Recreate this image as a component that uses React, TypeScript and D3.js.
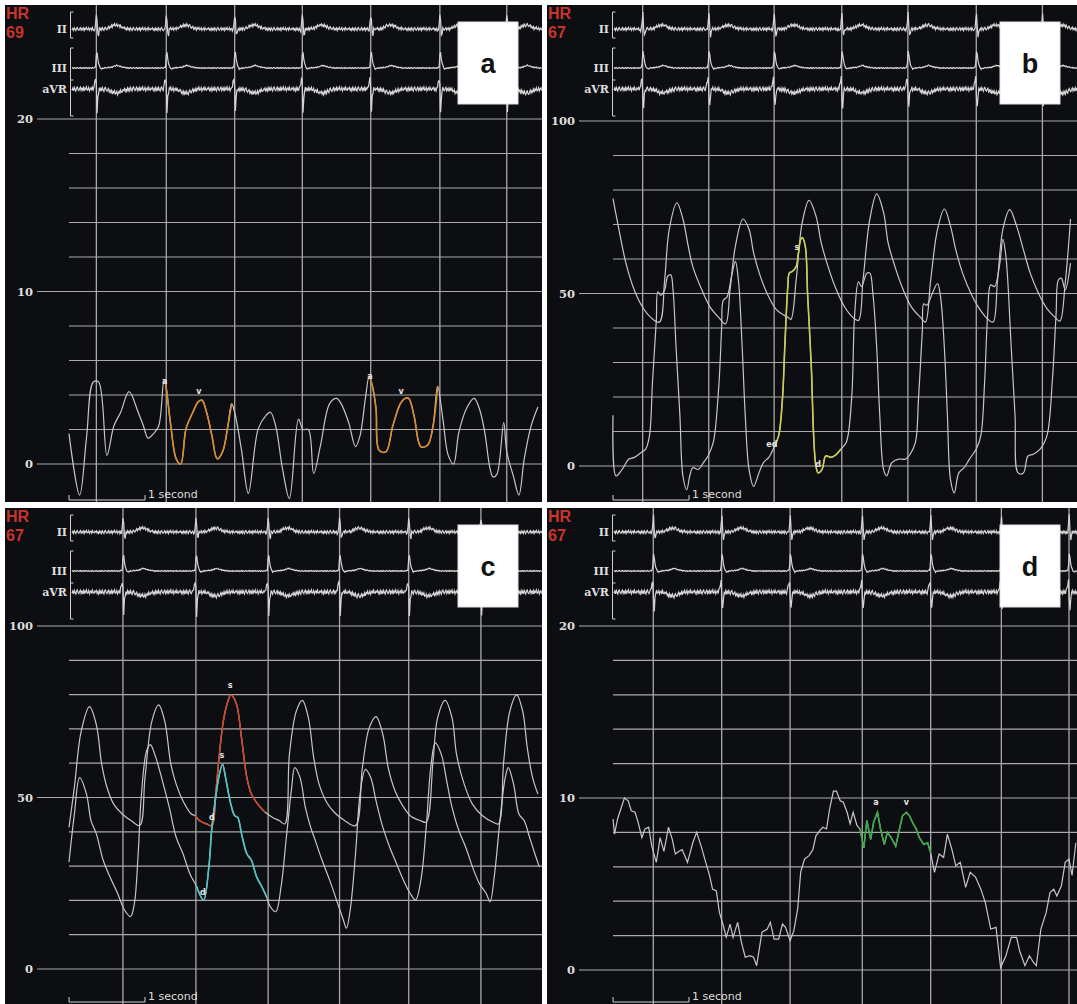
import React, { useEffect, useRef } from "react";
import * as d3 from "d3";

type Pt = [number, number];

// ---------- panel a : CVP (0-20 mmHg), time in seconds ----------
const hrA = "69";
const yTicksA = [0, 10, 20];
const beatsA = [0.36, 1.28, 2.18, 3.07, 3.97, 4.88, 5.76];
const cvpA: Pt[] = [
  [0.0, 1.76], [0.14, -1.8], [0.23, 1.5], [0.32, 4.75], [0.39, 4.75], [0.5, 0.5], [0.59, 2.2], [0.68, 3.0],
  [0.79, 4.2], [0.91, 3.0], [0.98, 2.2], [1.04, 1.5], [1.11, 1.75], [1.18, 2.2], [1.25, 4.9], [1.27, 4.65],
  [1.34, 2.2], [1.41, 0.3], [1.47, 0], [1.54, 2.05], [1.63, 3.0], [1.7, 3.6], [1.75, 3.7], [1.81, 3.0],
  [1.88, 1.65], [1.95, 0.3], [2.02, 0.7], [2.09, 2.2], [2.14, 3.5], [2.18, 3.0], [2.27, 0.8], [2.36, -1.7],
  [2.49, 2.05], [2.59, 2.8], [2.65, 3.0], [2.72, 2.2], [2.81, -0.3], [2.9, -2.0], [3.02, 2.6], [3.08, 2.0],
  [3.15, 2.0], [3.22, -0.55], [3.31, 1.1], [3.43, 3.5], [3.52, 3.8], [3.58, 3.5], [3.68, 2.4], [3.77, 1.0],
  [3.83, 1.65], [3.9, 3.8], [3.95, 5.1], [3.99, 4.55], [4.04, 3.2], [4.08, 0.8], [4.17, 0.7], [4.26, 2.2],
  [4.36, 3.5], [4.42, 3.8], [4.47, 3.8], [4.54, 2.8], [4.63, 1.0], [4.72, 1.1], [4.79, 2.2], [4.85, 4.5],
  [4.92, 2.6], [4.99, 0.5], [5.06, 0], [5.13, 1.85], [5.24, 3.3], [5.33, 3.8], [5.4, 3.2], [5.47, 1.85],
  [5.54, -0.27], [5.58, -0.75], [5.63, -0.6], [5.72, 2.4], [5.76, 0.7], [5.85, -0.75], [5.92, -1.8],
  [5.99, 0.3], [6.08, 2.2], [6.17, 3.3],
];
const cvpAMarks: Pt[] = [[1.25, 2.14], [3.95, 4.85]];
const notesA = [
  { t: 1.26, v: 4.8, text: "a" }, { t: 1.71, v: 4.2, text: "v" },
  { t: 3.96, v: 5.1, text: "a" }, { t: 4.37, v: 4.2, text: "v" },
];

// ---------- panel b : arterial + ventricular (0-100 mmHg) ----------
const hrB = "67";
const yTicksB = [0, 50, 100];
const beatsB = [0.39, 1.26, 2.12, 3.01, 3.88, 4.78, 5.65];
const artB: Pt[] = [
  [0.0, 77.5], [0.06, 70.6], [0.17, 58.8], [0.28, 51], [0.39, 46], [0.5, 43], [0.61, 41.7], [0.68, 54],
  [0.74, 68.6], [0.84, 76.3], [0.92, 71.6], [0.99, 63.7], [1.05, 57.8], [1.17, 51], [1.28, 46], [1.39, 43.1],
  [1.48, 41.2], [1.54, 51], [1.61, 63.7], [1.71, 71.6], [1.79, 68.6], [1.85, 61.8], [1.94, 54.9], [2.05, 49],
  [2.16, 45.1], [2.3, 43.1], [2.34, 42.5], [2.41, 53.9], [2.49, 70.6], [2.58, 77], [2.67, 72.5], [2.74, 64.7],
  [2.83, 57.8], [2.94, 51], [3.05, 46], [3.16, 43], [3.23, 42.2], [3.29, 53.9], [3.38, 71.6], [3.47, 78.9],
  [3.56, 73.5], [3.62, 64.7], [3.71, 57.8], [3.82, 51], [3.93, 46], [4.05, 43], [4.11, 41.7], [4.18, 53.9],
  [4.27, 68.6], [4.36, 74.5], [4.44, 69.6], [4.51, 62.7], [4.6, 55.9], [4.71, 50], [4.82, 45.6], [4.93, 42.6],
  [5.0, 41.7], [5.06, 53.9], [5.13, 68.6], [5.22, 74.3], [5.31, 69.6], [5.4, 62.7], [5.49, 55.9], [5.6, 50],
  [5.71, 45.6], [5.82, 43], [5.88, 42], [5.95, 53], [6.02, 71.6],
];
const lvB: Pt[] = [
  [0.0, 14.7], [0.04, -2.9], [0.12, -1], [0.21, 2], [0.28, 2.5], [0.37, 3.9], [0.43, 4.9], [0.48, 8.8],
  [0.52, 24.5], [0.57, 42.2], [0.59, 50.5], [0.63, 49.5], [0.68, 51], [0.72, 55], [0.76, 55.4], [0.79, 51],
  [0.83, 34.3], [0.88, 14.7], [0.92, -2.9], [0.97, -6.9], [1.01, -2.9], [1.05, -0.5], [1.12, -1], [1.19, 1],
  [1.25, 2.9], [1.32, 6.9], [1.39, 22.5], [1.43, 40.2], [1.45, 48], [1.5, 49], [1.56, 55], [1.61, 59.3],
  [1.65, 53.9], [1.7, 34.3], [1.74, 14.7], [1.79, -1], [1.85, -5.9], [1.92, -2], [1.98, 1], [2.05, 2.5],
  [2.12, 5.5], [2.18, 8.8], [2.23, 19.6], [2.26, 34.3], [2.3, 52], [2.32, 55.9], [2.36, 56.4], [2.41, 57.8],
  [2.44, 61.8], [2.47, 65.7], [2.49, 66.2], [2.53, 63.7], [2.56, 50], [2.61, 28.4], [2.64, 8.8], [2.67, 0],
  [2.7, -2], [2.75, -1], [2.8, 2.9], [2.87, 2.5], [2.94, 3.4], [3.0, 4.9], [3.07, 6.9], [3.14, 19.6],
  [3.18, 44], [3.23, 53.4], [3.27, 52], [3.34, 55.9], [3.38, 55.9], [3.42, 50], [3.47, 34.3], [3.51, 14.7],
  [3.56, -1], [3.6, -2.9], [3.67, 1], [3.76, 2], [3.85, 2], [3.91, 3.4], [3.98, 6.9], [4.02, 19.6],
  [4.07, 39.2], [4.09, 47], [4.13, 46.6], [4.2, 50], [4.27, 52.9], [4.31, 49], [4.36, 34.3], [4.4, 14.7],
  [4.44, -3.9], [4.49, -7.8], [4.55, -2], [4.62, -0.5], [4.69, 2], [4.78, 4.9], [4.84, 8.8], [4.89, 24.5],
  [4.93, 44], [4.97, 52.5], [5.02, 52], [5.09, 58.8], [5.13, 65.7], [5.17, 60.8], [5.24, 34.3], [5.29, 14.7],
  [5.33, -2], [5.4, -2], [5.46, 2.9], [5.53, 3.4], [5.62, 4.9], [5.71, 8.8], [5.78, 24.5], [5.83, 44],
  [5.86, 53.9], [5.9, 54.4], [5.95, 51], [6.02, 58.8],
];
const lvBMarks: Pt[] = [[2.12, 3.0]];
const notesB = [
  { t: 2.42, v: 63.5, text: "s" }, { t: 2.09, v: 6.4, text: "ed" }, { t: 2.7, v: 0.6, text: "d" },
];

// ---------- panel c : two arterial traces (0-100 mmHg) ----------
const hrC = "67";
const yTicksC = [0, 50, 100];
const beatsC = [0.71, 1.67, 2.62, 3.56, 4.47, 5.42];
const upperC: Pt[] = [
  [0.0, 41.3], [0.07, 52.9], [0.16, 69.3], [0.27, 76.5], [0.36, 71.2], [0.43, 59.7], [0.5, 52.9], [0.59, 48],
  [0.7, 45.2], [0.82, 43.2], [0.93, 41.8], [1.0, 55.8], [1.09, 72.2], [1.18, 77], [1.26, 72.2], [1.34, 59.7],
  [1.41, 53.9], [1.5, 49], [1.61, 45.2], [1.66, 44.7], [1.72, 43.2], [1.81, 42.3], [1.88, 41.8], [1.93, 51],
  [1.97, 60.6], [2.03, 72.2], [2.09, 78], [2.13, 79.9], [2.2, 77.5], [2.27, 67.4], [2.34, 55.8], [2.4, 51],
  [2.5, 47.6], [2.58, 45.7], [2.68, 44.2], [2.77, 43.2], [2.84, 42.3], [2.9, 62.5], [2.99, 75.1], [3.07, 78.3],
  [3.15, 73.2], [3.22, 61.6], [3.29, 53.9], [3.38, 49], [3.49, 45.7], [3.63, 43.2], [3.77, 41.8], [3.86, 58.7],
  [3.95, 70.3], [4.04, 73.6], [4.13, 68.3], [4.2, 58.7], [4.29, 51.9], [4.38, 48], [4.49, 44.7], [4.63, 43.2],
  [4.7, 42.8], [4.79, 60.6], [4.85, 73.2], [4.95, 78.3], [5.04, 73.2], [5.1, 62.5], [5.2, 53.9], [5.31, 48],
  [5.44, 44.7], [5.58, 42.8], [5.65, 42.3], [5.72, 60.6], [5.8, 75.1], [5.89, 79.9], [5.97, 75.1], [6.03, 64.5],
  [6.1, 55.8], [6.17, 51],
];
const lowerC: Pt[] = [
  [0.0, 31.2], [0.07, 45], [0.14, 55.8], [0.23, 51], [0.29, 43.2], [0.36, 39.4], [0.45, 31.7], [0.54, 26.8],
  [0.64, 22], [0.73, 17.2], [0.81, 15.3], [0.86, 19.1], [0.91, 33.6], [0.95, 50], [1.02, 63.5], [1.07, 65.4],
  [1.13, 62.5], [1.23, 54.8], [1.32, 47.1], [1.41, 38.4], [1.5, 33.6], [1.59, 27.8], [1.67, 24.5], [1.77, 20.1],
  [1.84, 29.7], [1.88, 41.3], [1.93, 50], [1.97, 55.8], [2.02, 59.7], [2.06, 55.8], [2.13, 48], [2.18, 44.7],
  [2.22, 44.2], [2.27, 39.4], [2.34, 33.6], [2.4, 31.7], [2.47, 26.8], [2.54, 23.9], [2.6, 21], [2.65, 18.1],
  [2.72, 16.7], [2.79, 23.9], [2.86, 38.4], [2.93, 52.9], [2.97, 58.7], [3.04, 55.8], [3.11, 47.1], [3.18, 41.3],
  [3.24, 37.5], [3.33, 31.7], [3.43, 25.9], [3.52, 20.1], [3.61, 14.3], [3.65, 11.9], [3.7, 17.2], [3.77, 33.6],
  [3.83, 51], [3.9, 58.2], [3.97, 55.8], [4.04, 49], [4.13, 41.3], [4.22, 35.5], [4.31, 30.7], [4.4, 25.9],
  [4.49, 22], [4.56, 20.1], [4.63, 25.9], [4.7, 41.3], [4.76, 58.7], [4.82, 65.9], [4.9, 62.5], [4.97, 54.8],
  [5.04, 47.1], [5.13, 40.3], [5.22, 35.5], [5.31, 29.7], [5.4, 24.9], [5.49, 22], [5.54, 19.6], [5.6, 27.8],
  [5.67, 43.2], [5.74, 55.8], [5.78, 58.7], [5.85, 53.9], [5.92, 45.2], [5.99, 43.2], [6.06, 38.4],
  [6.13, 33.6], [6.19, 29.7],
];
const upperCMarks: Pt[] = [[1.66, 2.58]];
const lowerCMarks: Pt[] = [[1.67, 2.6]];
const notesC = [
  { t: 2.12, v: 82.8, text: "s" }, { t: 2.01, v: 62.4, text: "s" },
  { t: 1.88, v: 44.3, text: "d" }, { t: 1.76, v: 22.4, text: "d" },
];

// ---------- panel d : PA / wedge (0-20 mmHg) ----------
const hrD = "67";
const yTicksD = [0, 10, 20];
const beatsD = [0.53, 1.43, 2.33, 3.28, 4.18, 5.11, 6.0];
const paD: Pt[] = [
  [0.0, 8.78], [0.02, 7.9], [0.06, 8.78], [0.15, 10], [0.2, 9.84], [0.24, 9.26], [0.29, 9.17], [0.33, 8.6],
  [0.38, 7.7], [0.42, 8.2], [0.47, 8.3], [0.51, 7.2], [0.57, 6.26], [0.62, 7.7], [0.67, 6.9], [0.73, 8.3],
  [0.78, 7.6], [0.82, 6.74], [0.87, 6.9], [0.91, 7.0], [0.98, 6.26], [1.05, 7.4], [1.1, 8.0], [1.16, 7.2],
  [1.22, 6.26], [1.27, 5.5], [1.31, 4.7], [1.36, 4.6], [1.4, 3.35], [1.45, 2.6], [1.49, 1.9], [1.54, 2.67],
  [1.58, 1.9], [1.64, 2.77], [1.69, 1.6], [1.74, 0.74], [1.8, 0.83], [1.85, 0.74], [1.89, 0.25], [1.96, 2.2],
  [2.03, 2.38], [2.07, 2.77], [2.12, 1.8], [2.18, 1.8], [2.23, 2.67], [2.27, 2.48], [2.33, 1.7], [2.38, 2.29],
  [2.43, 3.55], [2.47, 5.7], [2.52, 6.45], [2.58, 6.65], [2.63, 7.0], [2.67, 7.8], [2.72, 8.1], [2.76, 8.3],
  [2.81, 8.2], [2.85, 9.36], [2.9, 10.4], [2.94, 10.4], [2.99, 9.84], [3.03, 9.75], [3.08, 9.17], [3.12, 8.5],
  [3.16, 9.17], [3.21, 8.4], [3.25, 8.2], [3.3, 7.1], [3.34, 8.7], [3.39, 7.6], [3.43, 8.6], [3.48, 9.17],
  [3.52, 8.2], [3.57, 7.3], [3.61, 8.0], [3.66, 7.7], [3.72, 7.2], [3.77, 8.2], [3.81, 8.97], [3.86, 9.17],
  [3.9, 8.97], [3.95, 8.5], [3.99, 8.2], [4.03, 7.7], [4.09, 7.3], [4.14, 7.4], [4.18, 6.8], [4.23, 5.68],
  [4.29, 6.74], [4.35, 6.55], [4.4, 7.9], [4.46, 7.0], [4.51, 6.06], [4.57, 6.26], [4.64, 4.8], [4.7, 5.68],
  [4.77, 5.4], [4.84, 4.7], [4.9, 3.9], [4.97, 2.38], [5.04, 2.48], [5.1, 0.15], [5.17, 0.83], [5.24, 1.9],
  [5.31, 1.9], [5.35, 1.12], [5.42, 0.25], [5.48, 0.83], [5.53, 0.45], [5.57, 0.25], [5.63, 2.38], [5.7, 3.35],
  [5.75, 4.5], [5.8, 4.7], [5.84, 4.3], [5.9, 4.9], [5.95, 6.26], [6.0, 6.45], [6.04, 5.5], [6.09, 7.4],
];
const paDMarks: Pt[] = [[3.25, 4.18]];
const notesD = [{ t: 3.46, v: 9.77, text: "a" }, { t: 3.86, v: 9.77, text: "v" }];

// ---------- ECG beat templates: [s from R, mV] ----------
const ecgII: Pt[] = [
  [-0.05, 0], [-0.02, -0.08], [-0.005, 0.5], [0.005, 1.0], [0.015, -0.1], [0.025, -0.45], [0.04, 0],
  [0.14, 0.02], [0.22, 0.2], [0.28, 0.22], [0.36, 0.05], [0.44, 0],
];
const ecgIII: Pt[] = [
  [-0.04, 0], [-0.01, 0.05], [0.005, 1.0], [0.02, 0.45], [0.035, 0.15], [0.06, -0.05], [0.1, 0],
  [0.2, 0.04], [0.27, 0.14], [0.34, 0.05], [0.42, 0],
];
const ecgAVR: Pt[] = [
  [-0.04, 0], [-0.015, 0.35], [-0.003, 0.5], [0.008, -1.0], [0.02, -0.3], [0.035, 0], [0.14, -0.02],
  [0.22, -0.14], [0.28, -0.16], [0.36, -0.05], [0.44, 0],
];
const ecgTexture = [
  0.6, -0.4, 0.9, -0.8, 0.2, 1.0, -0.6, -1.0, 0.4, 0.8, -0.2, -0.9, 0.7, -0.3, 0.5, -0.7, 1.0, -0.5, 0.1,
  -1.0, 0.6, 0.3, -0.8, 0.9, -0.1, -0.6, 0.8, -0.9, 0.3, 0.6, -0.4, 0.0, -0.8, 0.7, -0.2, 0.9, -0.7,
];

const W = 1077;
const H = 1004;
const PX_PER_SEC = 76;
const BG = "#0d0e12";
const GRID = "#a9a9a9";
const TRACE = "#c6c6c6";
const TEXT = "#dedede";

const leads = [
  { name: "II", base: 24, gain: 18, tmpl: ecgII, noise: 1.5 },
  { name: "III", base: 63, gain: 19, tmpl: ecgIII, noise: 0.5 },
  { name: "aVR", base: 84, gain: 25, tmpl: ecgAVR, noise: 2.0 },
];

type Trace = { data: Pt[]; smooth: boolean; marks: Pt[]; color: string };
type Panel = {
  letter: string;
  hr: string;
  yMax: number;
  yStep: number;
  yTicks: number[];
  beats: number[];
  traces: Trace[];
  notes: { t: number; v: number; text: string }[];
  box: { x: number; y: number; w: number; h: number; x0: number; yTop: number; yZero: number };
};

const panels: Panel[] = [
  {
    letter: "a", hr: hrA, yMax: 20, yStep: 2, yTicks: yTicksA, beats: beatsA,
    traces: [{ data: cvpA, smooth: true, marks: cvpAMarks, color: "#d98a2e" }],
    notes: notesA,
    box: { x: 5, y: 5, w: 537, h: 497, x0: 69, yTop: 119, yZero: 464 },
  },
  {
    letter: "b", hr: hrB, yMax: 100, yStep: 10, yTicks: yTicksB, beats: beatsB,
    traces: [
      { data: artB, smooth: true, marks: [], color: TRACE },
      { data: lvB, smooth: true, marks: lvBMarks, color: "#c8cc50" },
    ],
    notes: notesB,
    box: { x: 547, y: 5, w: 530, h: 497, x0: 613, yTop: 121, yZero: 466 },
  },
  {
    letter: "c", hr: hrC, yMax: 100, yStep: 10, yTicks: yTicksC, beats: beatsC,
    traces: [
      { data: upperC, smooth: true, marks: upperCMarks, color: "#c9472c" },
      { data: lowerC, smooth: true, marks: lowerCMarks, color: "#50c3c6" },
    ],
    notes: notesC,
    box: { x: 5, y: 508, w: 537, h: 496, x0: 69, yTop: 626, yZero: 969 },
  },
  {
    letter: "d", hr: hrD, yMax: 20, yStep: 2, yTicks: yTicksD, beats: beatsD,
    traces: [{ data: paD, smooth: false, marks: paDMarks, color: "#3fa64a" }],
    notes: notesD,
    box: { x: 547, y: 508, w: 530, h: 496, x0: 613, yTop: 626, yZero: 970 },
  },
];

function drawPanel(svg: d3.Selection<SVGSVGElement, unknown, null, undefined>, p: Panel) {
  const b = p.box;
  const right = b.x + b.w;
  const clipId = "clip-" + p.letter;
  svg.append("clipPath").attr("id", clipId)
    .append("rect").attr("x", b.x).attr("y", b.y).attr("width", b.w).attr("height", b.h);
  const g = svg.append("g").attr("clip-path", `url(#${clipId})`);
  g.append("rect").attr("x", b.x).attr("y", b.y).attr("width", b.w).attr("height", b.h).attr("fill", BG);

  const x = d3.scaleLinear().domain([0, 1]).range([b.x0, b.x0 + PX_PER_SEC]);
  const y = d3.scaleLinear().domain([0, p.yMax]).range([b.yZero, b.yTop]);

  // horizontal grid
  const gridVals = d3.range(0, p.yMax + p.yStep / 2, p.yStep);
  g.selectAll(".hgrid").data(gridVals).enter().append("line")
    .attr("x1", (d) => (p.yTicks.includes(d) ? b.x + 32 : x(0)))
    .attr("x2", right)
    .attr("y1", (d) => y(d)).attr("y2", (d) => y(d))
    .attr("stroke", GRID).attr("stroke-width", 1.2);

  g.selectAll(".ylab").data(p.yTicks).enter().append("text")
    .attr("x", b.x + 28).attr("y", (d) => y(d)).attr("dy", "0.35em")
    .attr("text-anchor", "end")
    .attr("font-family", "'DejaVu Serif', serif").attr("font-weight", "bold").attr("font-size", 11.5)
    .attr("fill", TEXT)
    .text((d) => String(d));

  // beat markers
  g.selectAll(".vgrid").data(p.beats).enter().append("line")
    .attr("x1", (d) => x(d)).attr("x2", (d) => x(d))
    .attr("y1", b.y).attr("y2", b.y + b.h)
    .attr("stroke", GRID).attr("stroke-width", 1.3);

  // ECG leads
  const tStart = x.invert(b.x + 67);
  const tEnd = x.invert(right);
  const times = d3.range(tStart, tEnd, 0.01);
  leads.forEach((lead) => {
    const shape = d3.scaleLinear().domain(lead.tmpl.map((d) => d[0])).range(lead.tmpl.map((d) => d[1])).clamp(true);
    const pts: Pt[] = times.map((t, i) => {
      const near = p.beats.reduce((a, r) => (Math.abs(t - r) < Math.abs(t - a) ? r : a), p.beats[0]);
      const v = shape(t - near);
      return [x(t), b.y + lead.base - lead.gain * v + lead.noise * ecgTexture[i % ecgTexture.length]];
    });
    g.append("path").attr("d", d3.line()(pts)).attr("fill", "none")
      .attr("stroke", "#d4d4d4").attr("stroke-width", 1.2);
    g.append("text").attr("x", b.x + 62).attr("y", b.y + lead.base + 4)
      .attr("text-anchor", "end")
      .attr("font-family", "'DejaVu Serif', serif").attr("font-weight", "bold").attr("font-size", 11)
      .attr("fill", TEXT).text(lead.name);
  });

  const bx = b.x + 65.5;
  const bracket = d3.path();
  bracket.moveTo(bx + 3, b.y + 7); bracket.lineTo(bx, b.y + 7); bracket.lineTo(bx, b.y + 33); bracket.lineTo(bx + 3, b.y + 33);
  bracket.moveTo(bx + 3, b.y + 43); bracket.lineTo(bx, b.y + 43); bracket.lineTo(bx, b.y + 111); bracket.lineTo(bx + 3, b.y + 111);
  bracket.moveTo(bx, b.y + 75); bracket.lineTo(bx + 3, b.y + 75);
  g.append("path").attr("d", bracket.toString()).attr("fill", "none").attr("stroke", "#cfcfcf").attr("stroke-width", 1);

  // HR
  const hrText = g.append("text").attr("font-family", "'Liberation Sans', Arial, sans-serif")
    .attr("font-weight", "bold").attr("font-size", 16).attr("fill", "#c8352c");
  hrText.append("tspan").attr("x", b.x + 1).attr("y", b.y + 14).text("HR");
  hrText.append("tspan").attr("x", b.x + 1).attr("y", b.y + 33).text(p.hr);

  // pressure traces
  p.traces.forEach((tr) => {
    const line = d3.line<Pt>()
      .x((d) => x(d[0])).y((d) => y(d[1]))
      .curve(tr.smooth ? d3.curveCatmullRom.alpha(0.5) : d3.curveLinear);
    g.append("path").attr("d", line(tr.data)).attr("fill", "none")
      .attr("stroke", TRACE).attr("stroke-width", 1.2);
    tr.marks.forEach((m) => {
      const seg = tr.data.filter((d) => d[0] >= m[0] - 1e-6 && d[0] <= m[1] + 1e-6);
      g.append("path").attr("d", line(seg)).attr("fill", "none")
        .attr("stroke", tr.color).attr("stroke-width", 1.6);
    });
  });

  g.selectAll(".note").data(p.notes).enter().append("text")
    .attr("x", (d) => x(d.t)).attr("y", (d) => y(d.v)).attr("dy", "0.35em")
    .attr("text-anchor", "middle")
    .attr("font-family", "'DejaVu Sans', sans-serif").attr("font-weight", "bold").attr("font-size", 8)
    .attr("fill", "#e4e4e4").text((d) => d.text);

  // scale bar
  const yb = b.y + b.h - 2;
  g.append("path")
    .attr("d", `M${x(0)},${yb - 5}V${yb}H${x(1)}V${yb - 5}`)
    .attr("fill", "none").attr("stroke", "#cfcfcf").attr("stroke-width", 1);
  g.append("text").attr("x", x(1) + 3).attr("y", yb - 2)
    .attr("font-family", "'DejaVu Sans', sans-serif").attr("font-size", 11).attr("fill", TEXT)
    .text("1 second");

  // panel letter box
  g.append("rect").attr("x", b.x + 453).attr("y", b.y + 17).attr("width", 60).attr("height", 82)
    .attr("fill", "#ffffff").attr("stroke", "#e2e2e2");
  g.append("text").attr("x", b.x + 483).attr("y", b.y + 68)
    .attr("text-anchor", "middle")
    .attr("font-family", "'Liberation Sans', Arial, sans-serif").attr("font-weight", "bold").attr("font-size", 27)
    .attr("fill", "#111").text(p.letter);
}

export default function App() {
  const ref = useRef<SVGSVGElement>(null);

  useEffect(() => {
    if (!ref.current) return;
    const svg = d3.select(ref.current);
    svg.selectAll("*").remove();
    svg.append("rect").attr("width", W).attr("height", H).attr("fill", "#ffffff");
    panels.forEach((p) => drawPanel(svg, p));
  }, []);

  return (
    <svg
      ref={ref}
      width={W}
      height={H}
      style={{ position: "absolute", left: 0, top: 0, display: "block" }}
    />
  );
}
